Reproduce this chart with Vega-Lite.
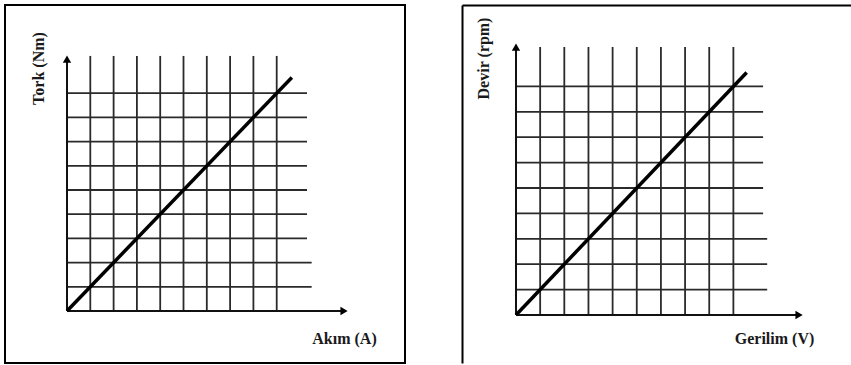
{
  "$schema": "https://vega.github.io/schema/vega-lite/v6.json",
  "background": "white",
  "padding": {"left": 4, "top": 4, "right": 0, "bottom": 0},
  "spacing": 56,
  "config": {
    "font": "'Liberation Serif', 'Times New Roman', serif",
    "axis": {
      "labels": false,
      "ticks": false,
      "grid": false,
      "titleFont": "'Liberation Serif', 'Times New Roman', serif",
      "titleFontWeight": "bold",
      "titleFontSize": 16,
      "titleColor": "#1a1a1a",
      "titleAlign": "center",
      "titleBaseline": "middle"
    }
  },
  "datasets": {
    "torkLines": [
      {"part": "grid", "x": 1, "y": 0, "x2": 1, "y2": 10.54},
      {"part": "grid", "x": 2, "y": 0, "x2": 2, "y2": 10.54},
      {"part": "grid", "x": 3, "y": 0, "x2": 3, "y2": 10.54},
      {"part": "grid", "x": 4, "y": 0, "x2": 4, "y2": 10.54},
      {"part": "grid", "x": 5, "y": 0, "x2": 5, "y2": 10.54},
      {"part": "grid", "x": 6, "y": 0, "x2": 6, "y2": 10.54},
      {"part": "grid", "x": 7, "y": 0, "x2": 7, "y2": 10.54},
      {"part": "grid", "x": 8, "y": 0, "x2": 8, "y2": 10.54},
      {"part": "grid", "x": 9, "y": 0, "x2": 9, "y2": 10.54},
      {"part": "grid", "x": 0, "y": 1, "x2": 10.5, "y2": 1},
      {"part": "grid", "x": 0, "y": 2, "x2": 10.5, "y2": 2},
      {"part": "grid", "x": 0, "y": 3, "x2": 10.3, "y2": 3},
      {"part": "grid", "x": 0, "y": 4, "x2": 10.3, "y2": 4},
      {"part": "grid", "x": 0, "y": 5, "x2": 10.3, "y2": 5},
      {"part": "grid", "x": 0, "y": 6, "x2": 10.3, "y2": 6},
      {"part": "grid", "x": 0, "y": 7, "x2": 10.3, "y2": 7},
      {"part": "grid", "x": 0, "y": 8, "x2": 10.3, "y2": 8},
      {"part": "grid", "x": 0, "y": 9, "x2": 10.3, "y2": 9},
      {"part": "axis", "x": 0, "y": 0, "x2": 11.89, "y2": 0},
      {"part": "axis", "x": 0, "y": 0, "x2": 0, "y2": 10.41}
    ],
    "torkCurve": [
      {"x": 0, "y": 0},
      {"x": 9.65, "y": 9.65}
    ],
    "torkArrows": [
      {"dir": "up", "x": 0, "y": 10.41},
      {"dir": "right", "x": 11.89, "y": 0}
    ],
    "devirLines": [
      {"part": "grid", "x": 1, "y": 0, "x2": 1, "y2": 10.55},
      {"part": "grid", "x": 2, "y": 0, "x2": 2, "y2": 10.55},
      {"part": "grid", "x": 3, "y": 0, "x2": 3, "y2": 10.55},
      {"part": "grid", "x": 4, "y": 0, "x2": 4, "y2": 10.55},
      {"part": "grid", "x": 5, "y": 0, "x2": 5, "y2": 10.55},
      {"part": "grid", "x": 6, "y": 0, "x2": 6, "y2": 10.55},
      {"part": "grid", "x": 7, "y": 0, "x2": 7, "y2": 10.55},
      {"part": "grid", "x": 8, "y": 0, "x2": 8, "y2": 10.55},
      {"part": "grid", "x": 9, "y": 0, "x2": 9, "y2": 10.55},
      {"part": "grid", "x": 0, "y": 1, "x2": 10.4, "y2": 1},
      {"part": "grid", "x": 0, "y": 2, "x2": 10.4, "y2": 2},
      {"part": "grid", "x": 0, "y": 3, "x2": 10.4, "y2": 3},
      {"part": "grid", "x": 0, "y": 4, "x2": 10.23, "y2": 4},
      {"part": "grid", "x": 0, "y": 5, "x2": 10.23, "y2": 5},
      {"part": "grid", "x": 0, "y": 6, "x2": 10.23, "y2": 6},
      {"part": "grid", "x": 0, "y": 7, "x2": 10.23, "y2": 7},
      {"part": "grid", "x": 0, "y": 8, "x2": 10.23, "y2": 8},
      {"part": "grid", "x": 0, "y": 9, "x2": 10.23, "y2": 9},
      {"part": "axis", "x": 0, "y": 0, "x2": 11.72, "y2": 0},
      {"part": "axis", "x": 0, "y": 0, "x2": 0, "y2": 10.55}
    ],
    "devirCurve": [
      {"x": 0, "y": 0},
      {"x": 9.55, "y": 9.55}
    ],
    "devirArrows": [
      {"dir": "up", "x": 0, "y": 10.55},
      {"dir": "right", "x": 11.72, "y": 0}
    ]
  },
  "hconcat": [
    {
      "width": 400,
      "height": 358,
      "view": {"stroke": "#000000", "strokeWidth": 2},
      "encoding": {
        "x": {
          "field": "x",
          "type": "quantitative",
          "scale": {"domain": [-2.661, 14.506], "nice": false, "zero": false},
          "axis": {
            "orient": "bottom",
            "domain": false,
            "title": "Akım (A)",
            "titleX": 339,
            "titleY": -25
          }
        },
        "y": {
          "field": "y",
          "type": "quantitative",
          "scale": {"domain": [-2.149, 12.645], "nice": false, "zero": false},
          "axis": {
            "orient": "left",
            "domain": false,
            "title": "Tork (Nm)",
            "titleAngle": -90,
            "titleX": 33,
            "titleY": 63
          }
        }
      },
      "layer": [
        {
          "data": {"name": "torkLines"},
          "transform": [{"filter": "datum.part === 'grid'"}],
          "mark": {"type": "rule", "color": "#2a2a2a", "strokeWidth": 1.8},
          "encoding": {"x2": {"field": "x2"}, "y2": {"field": "y2"}}
        },
        {
          "data": {"name": "torkLines"},
          "transform": [{"filter": "datum.part === 'axis'"}],
          "mark": {"type": "rule", "color": "#111111", "strokeWidth": 2},
          "encoding": {"x2": {"field": "x2"}, "y2": {"field": "y2"}}
        },
        {
          "data": {"name": "torkCurve"},
          "mark": {"type": "line", "color": "#000000", "strokeWidth": 3.5},
          "encoding": {}
        },
        {
          "data": {"name": "torkArrows"},
          "mark": {"type": "point", "filled": true, "color": "#000000", "opacity": 1, "size": 70},
          "encoding": {
            "shape": {
              "field": "dir",
              "type": "nominal",
              "scale": {"domain": ["up", "right"], "range": ["triangle-up", "triangle-right"]},
              "legend": null
            }
          }
        }
      ]
    },
    {
      "width": 389,
      "height": 358,
      "view": {"stroke": null},
      "encoding": {
        "x": {
          "field": "x",
          "type": "quantitative",
          "scale": {"domain": [-2.236, 13.87], "nice": false, "zero": false},
          "axis": {
            "orient": "top",
            "domain": true,
            "domainColor": "#000000",
            "domainWidth": 2,
            "title": "Gerilim (V)",
            "titleX": 312,
            "titleY": 333
          }
        },
        "y": {
          "field": "y",
          "type": "quantitative",
          "scale": {"domain": [-1.89, 12.205], "nice": false, "zero": false},
          "axis": {
            "orient": "left",
            "domain": true,
            "domainColor": "#000000",
            "domainWidth": 2,
            "title": "Devir (rpm)",
            "titleAngle": -90,
            "titleX": 21,
            "titleY": 53
          }
        }
      },
      "layer": [
        {
          "data": {"name": "devirLines"},
          "transform": [{"filter": "datum.part === 'grid'"}],
          "mark": {"type": "rule", "color": "#2a2a2a", "strokeWidth": 1.8},
          "encoding": {"x2": {"field": "x2"}, "y2": {"field": "y2"}}
        },
        {
          "data": {"name": "devirLines"},
          "transform": [{"filter": "datum.part === 'axis'"}],
          "mark": {"type": "rule", "color": "#111111", "strokeWidth": 2},
          "encoding": {"x2": {"field": "x2"}, "y2": {"field": "y2"}}
        },
        {
          "data": {"name": "devirCurve"},
          "mark": {"type": "line", "color": "#000000", "strokeWidth": 3.5},
          "encoding": {}
        },
        {
          "data": {"name": "devirArrows"},
          "mark": {"type": "point", "filled": true, "color": "#000000", "opacity": 1, "size": 70},
          "encoding": {
            "shape": {
              "field": "dir",
              "type": "nominal",
              "scale": {"domain": ["up", "right"], "range": ["triangle-up", "triangle-right"]},
              "legend": null
            }
          }
        }
      ]
    }
  ]
}
